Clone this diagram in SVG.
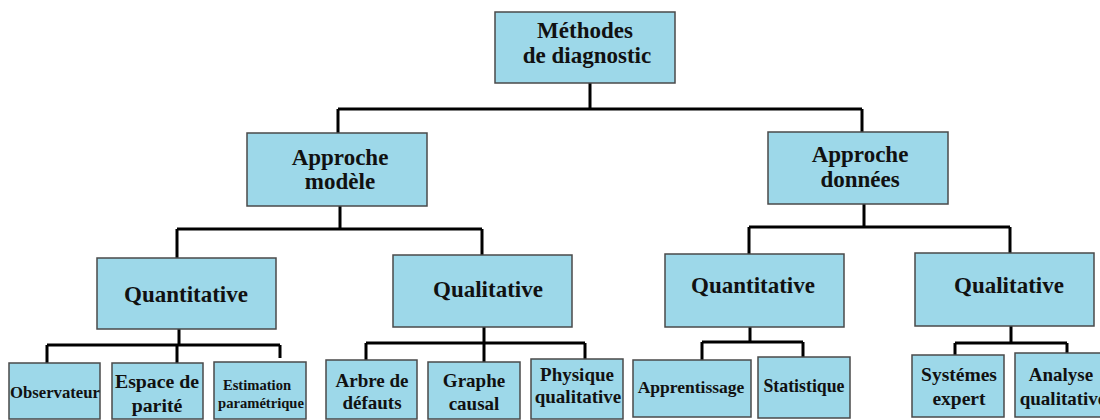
<svg xmlns="http://www.w3.org/2000/svg" width="1100" height="420" viewBox="0 0 1100 420">
<style>
.box{fill:#9dd8e9;stroke:#4a4a4a;stroke-width:1.5}
.t{font-family:"Liberation Serif","Times New Roman",Tinos,"Noto Serif","DejaVu Serif",FreeSerif,serif;font-weight:bold;fill:#111;text-anchor:middle}
.l{font-size:23px}
.m{font-size:19px}
.conn path{fill:none;stroke:#000;stroke-width:3}
</style>
<rect width="1100" height="420" fill="#fff"/>
<g class="conn" id="connectors">
<path d="M590,83 V109 M338,109 H862 M338,109 V133 M862,109 V132"/>
<path d="M340,206 V229 M177,229 H482 M177,229 V258 M482,229 V255"/>
<path d="M179,329 V345 M47,345 H280 M47,345 V363 M177,345 V363 M280,345 V358"/>
<path d="M484,327 V343 M366,343 H585 M366,343 V360 M484,343 V362 M585,343 V359"/>
<path d="M864,204 V227 M749,227 H1010 M749,227 V254 M1010,227 V253"/>
<path d="M750,327 V342 M702,342 H803 M702,342 V360 M803,342 V357"/>
<path d="M1011,326 V343 M955,343 H1067 M955,343 V355 M1067,343 V353"/>
</g>
<g id="methodes"><rect class="box" x="495" y="12" width="180" height="71"/><text class="t l" x="585" y="38">Méthodes</text><text class="t l" x="587" y="63">de diagnostic</text></g>
<g id="approche-modele"><rect class="box" x="247" y="133" width="180" height="73"/><text class="t l" x="340" y="165">Approche</text><text class="t l" x="340" y="189">modèle</text></g>
<g id="approche-donnees"><rect class="box" x="768" y="132" width="180" height="72"/><text class="t l" x="860" y="162">Approche</text><text class="t l" x="860" y="187">données</text></g>
<g id="quant-l"><rect class="box" x="97" y="258" width="179" height="71"/><text class="t l" x="186" y="302">Quantitative</text></g>
<g id="qual-l"><rect class="box" x="393" y="255" width="179" height="72"/><text class="t l" x="488" y="297">Qualitative</text></g>
<g id="quant-r"><rect class="box" x="665" y="254" width="179" height="73"/><text class="t l" x="753" y="293">Quantitative</text></g>
<g id="qual-r"><rect class="box" x="915" y="253" width="179" height="73"/><text class="t l" x="1009" y="293">Qualitative</text></g>
<g id="observateur"><rect class="box" x="9" y="363" width="91" height="56"/><text class="t" style="font-size:16.7px" x="55" y="398">Observateur</text></g>
<g id="espace"><rect class="box" x="112" y="363" width="91" height="56"/><text class="t" style="font-size:19.8px" x="157" y="388">Espace de</text><text class="t" style="font-size:19.8px" x="157" y="412">parité</text></g>
<g id="estimation"><rect class="box" x="214" y="362" width="92" height="57"/><text class="t" style="font-size:14.6px" x="257" y="390">Estimation</text><text class="t" style="font-size:14.6px" x="261" y="408">paramétrique</text></g>
<g id="arbre"><rect class="box" x="326" y="360" width="91" height="59"/><text class="t m" x="372" y="387">Arbre de</text><text class="t m" x="372" y="409">défauts</text></g>
<g id="graphe"><rect class="box" x="428" y="362" width="92" height="57"/><text class="t m" x="474" y="387">Graphe</text><text class="t m" x="474" y="410">causal</text></g>
<g id="physique"><rect class="box" x="531" y="359" width="92" height="60"/><text class="t m" x="577" y="381">Physique</text><text class="t m" x="578" y="403">qualitative</text></g>
<g id="apprentissage"><rect class="box" x="633" y="360" width="118" height="57"/><text class="t" style="font-size:17.5px" x="691" y="393">Apprentissage</text></g>
<g id="statistique"><rect class="box" x="758" y="357" width="92" height="61"/><text class="t" style="font-size:17.8px" x="804" y="392">Statistique</text></g>
<g id="systemes"><rect class="box" x="912" y="355" width="92" height="62"/><text class="t" style="font-size:19.5px" x="959" y="381">Systémes</text><text class="t" style="font-size:19.5px" x="959" y="405">expert</text></g>
<g id="analyse"><rect class="box" x="1015" y="353" width="92" height="64"/><text class="t m" x="1061" y="381">Analyse</text><text class="t m" x="1063" y="405">qualitative</text></g>
</svg>
